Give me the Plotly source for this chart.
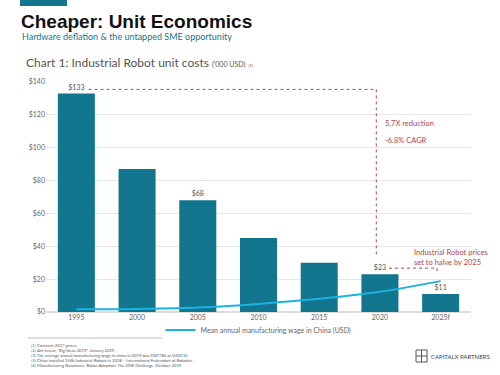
import plotly.graph_objects as go

years = ["1995", "2000", "2005", "2010", "2015", "2020", "2025f"]
robot_cost = [133, 87, 68, 45, 30, 23, 11]
cost_labels = ["$133", "", "$68", "", "", "$23", "$11"]
wage = [1.6, 1.9, 2.7, 4.9, 8.0, 12.3, 18.8]
y_ticks = [0, 20, 40, 60, 80, 100, 120, 140]
y_tick_labels = ["$0", "$20", "$40", "$60", "$80", "$100", "$120", "$140"]
footnotes = [
    "[1] Constant 2017 prices",
    "[2] Ark Invest, \"Big Ideas 2019\", January 2019",
    "[3] The average annual manufacturing wage in china in 2019 was CNY78k or USD11k",
    "[3] China installed 154k Industrial Robots in 2018 \u2013 International Federation of Robotics",
    "[4] Manufacturing Barometer, Robot Adoption: The SME Challenge, October 2019",
]

W, H = 500, 375
L, R, T, B = 46, 29, 82, 63
PW, PH = W - L - R, H - T - B

def px(x):
    return (x - L) / PW

def py(y):
    return (H - B - y) / PH

TEAL = "#12768f"
CYAN = "#1cb2e2"
RED = "#b5434b"
GRAY = "#666666"
FONT = "Lato"

fig = go.Figure()
fig.add_trace(go.Bar(
    x=years, y=robot_cost, marker_color=TEAL, marker_line_width=0,
    text=cost_labels, textposition="outside", cliponaxis=False,
    textfont=dict(size=7, color="#555555", family=FONT),
    showlegend=False, name="cost"))
fig.add_trace(go.Scatter(
    x=years, y=wage, mode="lines", line=dict(color=CYAN, width=2, shape="spline"),
    name="Mean annual manufacturing wage in China (USD)"))

# arrowheads
fig.add_trace(go.Scatter(
    x=[4.94, 5.94], y=[33, 21], mode="markers", cliponaxis=False,
    marker=dict(symbol="triangle-down", size=6, color=RED),
    showlegend=False, hoverinfo="skip"))

shapes = [
    dict(type="line", xref="x", yref="y", x0=0.2, x1=4.94, y0=135.5, y1=135.5,
         line=dict(color=RED, width=1, dash="dot")),
    dict(type="line", xref="x", yref="y", x0=4.94, x1=4.94, y0=135.5, y1=35,
         line=dict(color=RED, width=1, dash="dot")),
    dict(type="line", xref="x", yref="y", x0=5.15, x1=5.94, y0=26.7, y1=26.7,
         line=dict(color=RED, width=1, dash="dot")),
    dict(type="line", xref="x", yref="y", x0=5.94, x1=5.94, y0=26.7, y1=23,
         line=dict(color=RED, width=1, dash="dot")),
    # top teal bar
    dict(type="rect", xref="paper", yref="paper", x0=px(20), x1=px(67), y0=py(0), y1=py(6),
         fillcolor=TEAL, line_width=0),
    # footnote separator
    dict(type="line", xref="paper", yref="paper", x0=px(28), x1=px(162), y0=py(338), y1=py(338),
         line=dict(color="#bbbbbb", width=1)),
    # logo icon
    dict(type="rect", xref="paper", yref="paper", x0=px(416), x1=px(427), y0=py(362), y1=py(350),
         fillcolor="rgba(0,0,0,0)", line=dict(color="#555555", width=1)),
    dict(type="line", xref="paper", yref="paper", x0=px(416), x1=px(427), y0=py(356), y1=py(356),
         line=dict(color="#555555", width=1)),
    dict(type="line", xref="paper", yref="paper", x0=px(421.5), x1=px(421.5), y0=py(362), y1=py(350),
         line=dict(color="#555555", width=1)),
]

annotations = [
    dict(text="<b>Cheaper: Unit Economics</b>", x=px(19), y=py(22), xanchor="left", yanchor="middle",
         font=dict(size=19, color="#111111", family="Liberation Sans")),
    dict(text="Hardware deflation & the untapped SME opportunity", x=px(20), y=py(36),
         xanchor="left", yanchor="middle", font=dict(size=9, color=TEAL, family=FONT)),
    dict(text="Chart 1: Industrial Robot unit costs <span style='font-size:7px'>('000 USD)</span> "
              "<span style='font-size:4px'>(1)</span>",
         x=px(24), y=py(62), xanchor="left", yanchor="middle",
         font=dict(size=12, color="#555555", family=FONT)),
    dict(text="5.7X reduction", x=px(383), y=py(123), xanchor="left", yanchor="middle",
         font=dict(size=7.5, color=RED, family=FONT)),
    dict(text="-6.8% CAGR", x=px(383), y=py(140), xanchor="left", yanchor="middle",
         font=dict(size=7.5, color=RED, family=FONT)),
    dict(text="Industrial Robot prices<br>set to halve by 2025", x=px(412), y=py(257),
         xanchor="left", yanchor="middle", align="left",
         font=dict(size=7.5, color=RED, family=FONT)),
    dict(text="CAPITALX PARTNERS", x=px(429), y=py(356), xanchor="left", yanchor="middle",
         font=dict(size=6, color="#444444", family=FONT)),
]
for i, t in enumerate(footnotes):
    annotations.append(dict(text=t, x=px(29), y=py(345 + i * 5.0), xanchor="left", yanchor="middle",
                            font=dict(size=4.2, color="#555555", family=FONT)))
for a in annotations:
    a.setdefault("xref", "paper")
    a.setdefault("yref", "paper")
    a["showarrow"] = False

fig.update_layout(
    width=W, height=H, margin=dict(l=L, r=R, t=T, b=B),
    paper_bgcolor="white", plot_bgcolor="white",
    bargap=0.39, font=dict(family=FONT, color=GRAY),
    xaxis=dict(type="category", showgrid=False, showline=False, ticks="",
               tickfont=dict(size=7, color=GRAY), range=[-0.5, 6.5]),
    yaxis=dict(range=[0, 140], tickvals=y_ticks, ticktext=y_tick_labels,
               showgrid=True, gridcolor="#e6e6e6", gridwidth=1, zeroline=True,
               zerolinecolor="#dddddd", tickfont=dict(size=7, color=GRAY), ticklen=0),
    legend=dict(orientation="h", x=0.5, xanchor="center", y=py(330), yanchor="middle",
                font=dict(size=7, color=GRAY), itemwidth=30, bgcolor="rgba(0,0,0,0)"),
    shapes=shapes, annotations=annotations,
)

fig.write_html("out.html", config={"displayModeBar": False},
               post_script="document.body.style.margin='0';")
